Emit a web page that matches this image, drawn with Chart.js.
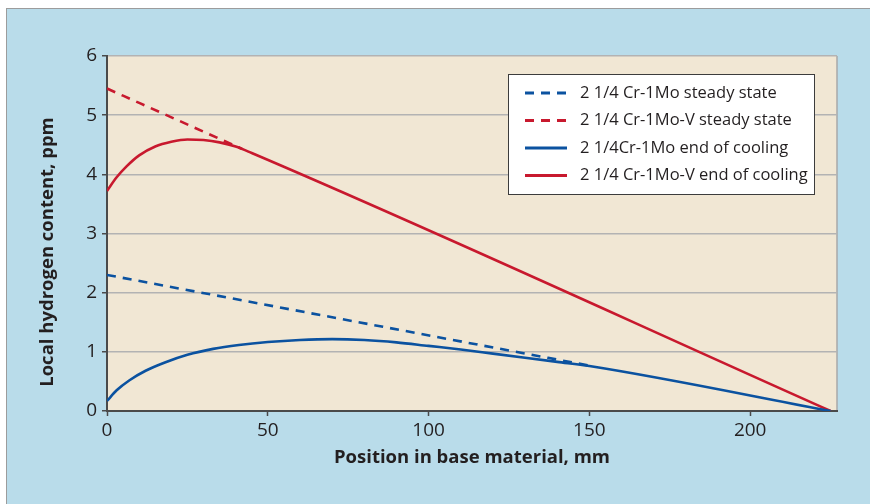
<!DOCTYPE html>
<html>
<head>
<meta charset="utf-8">
<script src="https://cdn.jsdelivr.net/npm/chart.js@4.4.1/dist/chart.umd.min.js"></script>
<style>
  html, body { margin: 0; padding: 0; background: #fff; }
  #wrap { position: relative; width: 870px; height: 504px; overflow: hidden; }
  #panel {
    position: absolute; left: 6px; top: 8px; right: 0; bottom: 0;
    background: #b9dcea;
    border-left: 1px solid #9c9c9c; border-top: 1px solid #9c9c9c;
  }
  #chart { position: absolute; left: 0; top: 0; }
</style>
</head>
<body>
<div id="wrap">
  <div id="panel"></div>
  <canvas id="chart" width="870" height="504"></canvas>
</div>
<script>
// --- DATA ---
const xTicks = [0, 50, 100, 150, 200];
const yTicks = [0, 1, 2, 3, 4, 5, 6];

// steady state lines, drawn up to where the end-of-cooling curve joins them
const moSteadyX = [0, 150];
const moSteadyY = [2.3, 0.767];

const moVSteadyX = [0, 42];
const moVSteadyY = [5.45, 4.43];

const moCoolX = [0, 3, 7, 12, 18, 25, 33, 41, 50, 60, 70, 80, 90, 100, 110, 120, 130, 140, 150, 225];
const moCoolY = [0.17, 0.35, 0.52, 0.68, 0.82, 0.95, 1.05, 1.115, 1.165, 1.2, 1.215, 1.2, 1.16, 1.1, 1.04, 0.97, 0.9, 0.83, 0.76, 0];

const moVCoolX = [0, 3, 6, 10, 15, 20, 25, 30, 35, 40, 45, 225];
const moVCoolY = [3.72, 3.95, 4.13, 4.32, 4.47, 4.55, 4.59, 4.58, 4.54, 4.47, 4.36, 0];

const labels = [
    "2 1/4 Cr-1Mo steady state",
    "2 1/4 Cr-1Mo-V steady state",
    "2 1/4Cr-1Mo end of cooling",
    "2 1/4 Cr-1Mo-V end of cooling"
];

const BLUE = '#0b52a0';
const RED = '#c8192e';
const INK = '#231f20';
const FONT = "'Open Sans', 'Noto Sans', sans-serif";

const pts = (xs, ys) => xs.map((x, i) => ({ x: x, y: ys[i] }));

// --- PLUGINS ---
const plotBackground = {
    id: 'plotBackground',
    beforeDraw(chart) {
        const { ctx, chartArea: a } = chart;
        ctx.save();
        ctx.fillStyle = '#f1e7d4';
        ctx.fillRect(a.left, a.top, a.right - a.left, a.bottom - a.top);
        ctx.strokeStyle = '#a8a8a8';
        ctx.lineWidth = 1.5;
        ctx.beginPath();
        ctx.moveTo(a.right, a.top);
        ctx.lineTo(a.right, a.bottom);
        ctx.stroke();
        ctx.restore();
    }
};

const boxLegend = {
    id: 'boxLegend',
    afterDraw(chart) {
        const ctx = chart.ctx;
        const box = { x: 508, y: 74, w: 307, h: 121 };
        ctx.save();
        ctx.fillStyle = '#ffffff';
        ctx.fillRect(box.x, box.y, box.w, box.h);
        ctx.strokeStyle = '#3c3c3c';
        ctx.lineWidth = 1;
        ctx.strokeRect(box.x + 0.5, box.y + 0.5, box.w - 1, box.h - 1);
        chart.data.datasets.forEach((ds, i) => {
            const y = 93 + i * 27.5;
            ctx.strokeStyle = ds.borderColor;
            ctx.lineWidth = 3;
            ctx.setLineDash(ds.borderDash || []);
            ctx.beginPath();
            ctx.moveTo(525, y);
            ctx.lineTo(567, y);
            ctx.stroke();
            ctx.setLineDash([]);
            ctx.fillStyle = INK;
            ctx.font = `16.5px ${FONT}`;
            ctx.textBaseline = 'middle';
            ctx.fillText(ds.label, 580, y);
        });
        ctx.restore();
    }
};

const yTitle = {
    id: 'yTitle',
    afterDraw(chart) {
        const ctx = chart.ctx;
        ctx.save();
        ctx.translate(48, 252);
        ctx.rotate(-Math.PI / 2);
        ctx.fillStyle = INK;
        ctx.font = `bold 18.5px ${FONT}`;
        ctx.textAlign = 'center';
        ctx.textBaseline = 'middle';
        ctx.fillText('Local hydrogen content, ppm', 0, 0);
        ctx.restore();
    }
};

// --- CHART ---
const line = (label, xs, ys, color, dash, order) => ({
    label: label,
    data: pts(xs, ys),
    borderColor: color,
    borderWidth: 2.6,
    borderDash: dash,
    pointRadius: 0,
    fill: false,
    cubicInterpolationMode: 'monotone',
    order: order
});

new Chart(document.getElementById('chart'), {
    type: 'line',
    data: {
        datasets: [
            line(labels[0], moSteadyX, moSteadyY, BLUE, [9, 7], 2),
            line(labels[1], moVSteadyX, moVSteadyY, RED, [9, 7], 2),
            line(labels[2], moCoolX, moCoolY, BLUE, [], 1),
            line(labels[3], moVCoolX, moVCoolY, RED, [], 1)
        ]
    },
    options: {
        responsive: false,
        animation: false,
        layout: { padding: { left: 0, top: 56, right: 33, bottom: 0 } },
        plugins: {
            legend: { display: false },
            tooltip: { enabled: false }
        },
        scales: {
            x: {
                type: 'linear',
                min: 0,
                max: 227,
                afterBuildTicks: s => { s.ticks = xTicks.map(v => ({ value: v })); },
                afterFit: s => { s.height = 93; },
                ticks: { color: INK, font: { family: FONT, size: 19 }, padding: 3 },
                grid: { drawOnChartArea: false, tickLength: 5, tickColor: '#4a4a4a', tickWidth: 1.5 },
                border: { color: '#4a4a4a', width: 2 },
                title: {
                    display: true,
                    text: 'Position in base material, mm',
                    color: INK,
                    font: { family: FONT, size: 18.5, weight: 'bold' },
                    padding: { top: 0, bottom: 35 }
                }
            },
            y: {
                min: 0,
                max: 6,
                afterBuildTicks: s => { s.ticks = yTicks.map(v => ({ value: v })); },
                afterFit: s => { s.width = 107; },
                ticks: { color: INK, font: { family: FONT, size: 19 }, padding: 5 },
                grid: { color: '#b3b3b3', lineWidth: 1.5, tickLength: 5, tickColor: '#4a4a4a', tickWidth: 1.5 },
                border: { color: '#4a4a4a', width: 2 }
            }
        }
    },
    plugins: [plotBackground, boxLegend, yTitle]
});
</script>
</body>
</html>
